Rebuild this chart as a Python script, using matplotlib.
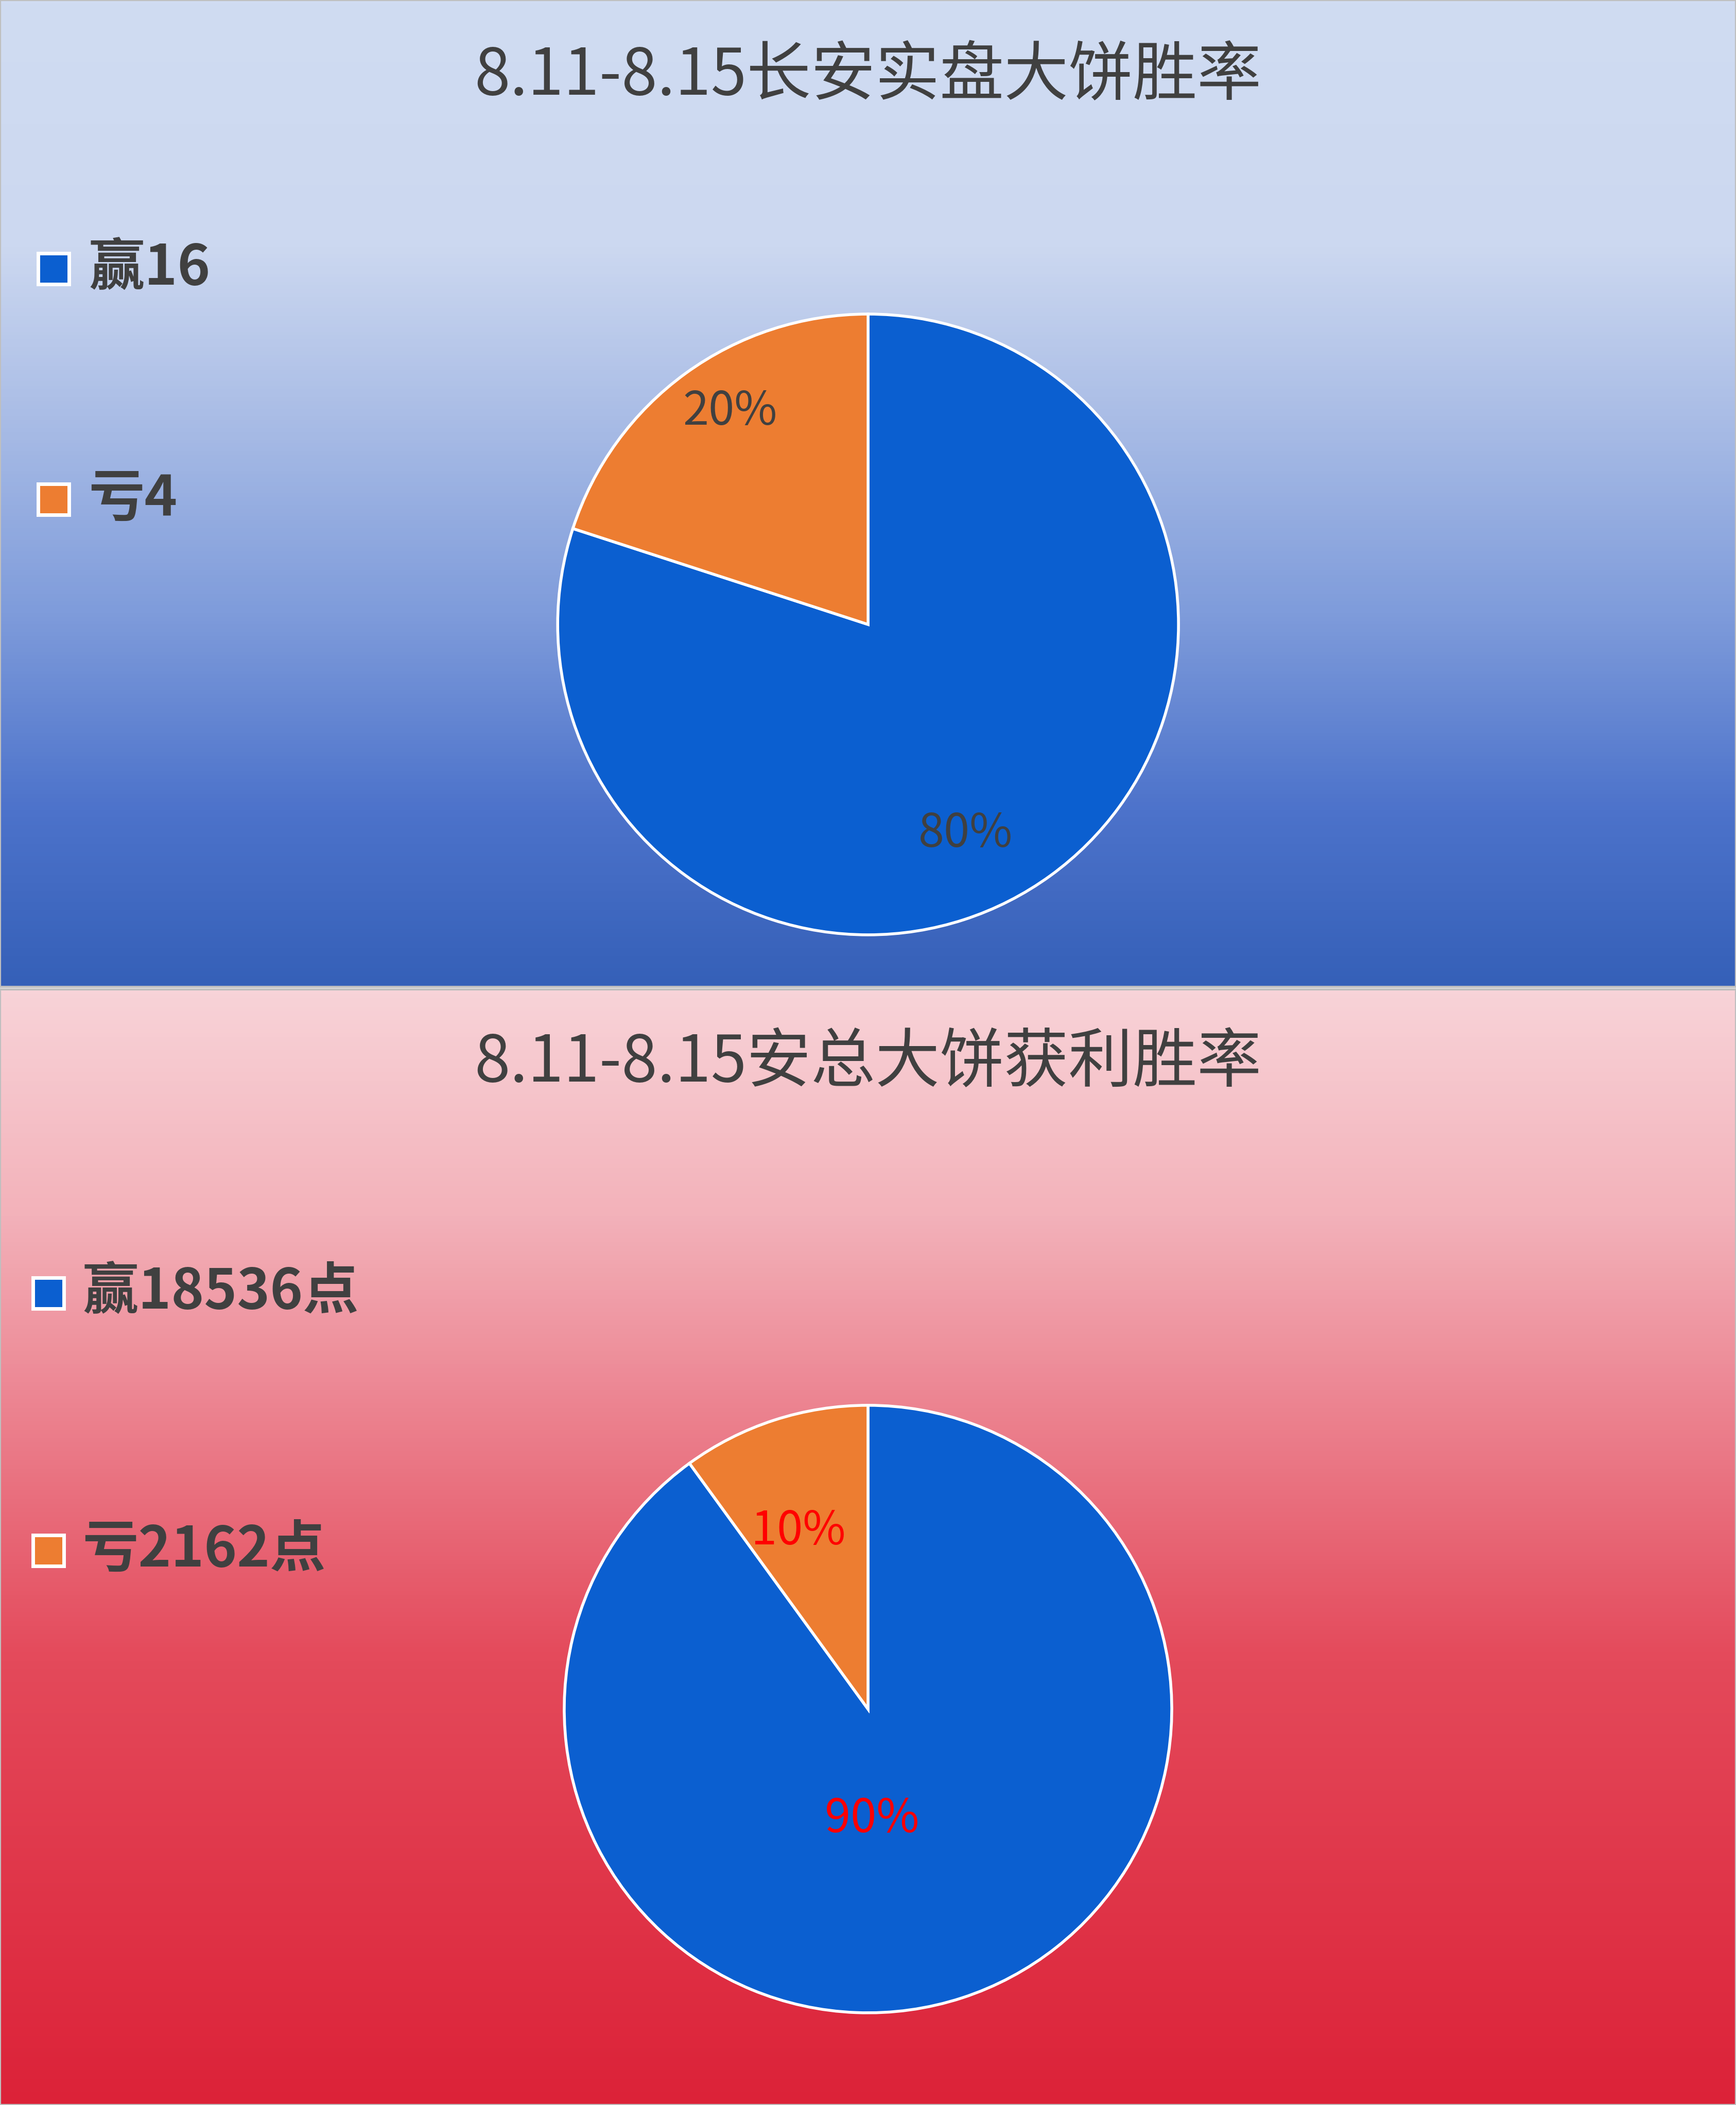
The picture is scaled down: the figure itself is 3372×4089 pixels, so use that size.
import matplotlib.pyplot as plt
import matplotlib.patches as mpatches
from matplotlib.colors import LinearSegmentedColormap
import numpy as np

plt.rcParams['font.family'] = ['Noto Sans CJK SC', 'DejaVu Sans']

# data
top_title = '8.11-8.15长安实盘大饼胜率'
top_labels = ['赢16', '亏4']
top_values = [80, 20]
bot_title = '8.11-8.15安总大饼获利胜率'
bot_labels = ['赢18536点', '亏2162点']
bot_values = [90, 10]
colors = ['#0B5FD0', '#ED7D31']

W, H = 3372, 4089
fig = plt.figure(figsize=(W / 100, H / 100), dpi=100)

def background(rect, stops):
    ax = fig.add_axes(rect)
    cmap = LinearSegmentedColormap.from_list('bg', stops)
    grad = np.linspace(0, 1, 512).reshape(-1, 1)
    ax.imshow(grad, aspect='auto', cmap=cmap, extent=[0, 1, 0, 1], origin='upper')
    ax.set_xlim(0, 1)
    ax.set_ylim(0, 1)
    ax.set_xticks([])
    ax.set_yticks([])
    for s in ax.spines.values():
        s.set_color('#BFBFBF')
        s.set_linewidth(3)
    return ax

background([0, 1 - 1917 / H, 1, 1917 / H],
           [(0.0, '#D0DCF2'), (0.25, '#CCD8F0'), (0.42, '#AABDE6'),
            (0.62, '#7F9CDB'), (0.82, '#4D73CB'), (1.0, '#3560B8')])
background([0, 0, 1, 1 - 1922 / H],
           [(0.0, '#F8D3D8'), (0.2, '#F3B2BA'), (0.4, '#EB7C8A'),
            (0.6, '#E44A5B'), (1.0, '#DC2238')])

def draw_pie(rect, values, dists, shifts, txt_color):
    ax = fig.add_axes(rect)
    wedges, texts, autotexts = ax.pie(values, colors=colors, startangle=90,
                                      counterclock=False, radius=1,
                                      autopct='%d%%',
                                      wedgeprops=dict(edgecolor='white', linewidth=4),
                                      textprops=dict(fontsize=65, color=txt_color))
    for w, t, d, s in zip(wedges, autotexts, dists, shifts):
        w.set_clip_on(False)
        ang = np.deg2rad((w.theta1 + w.theta2) / 2 + s)
        t.set_position((d * np.cos(ang), d * np.sin(ang)))
    ax.set_xlim(-1, 1)
    ax.set_ylim(-1, 1)
    ax.set_aspect('equal')
    ax.axis('off')
    return ax

draw_pie([0.3212, 0.5559, 0.3577, 0.2949], top_values, [0.745, 0.817], [-11, -3], '#404040')
draw_pie([0.325, 0.0438, 0.350, 0.2886], bot_values, [0.363, 0.628], [-16, 3.5], '#FF0000')

fig.text(0.5, 0.9636, top_title, ha='center', va='center', fontsize=90, color='#404040')
fig.text(0.5, 0.4948, bot_title, ha='center', va='center', fontsize=90, color='#404040')

def legend(labels, xs, xt, ys):
    for lab, c, y in zip(labels, colors, ys):
        sq = 60
        fig.patches.append(mpatches.Rectangle(((xs - sq / 2) / W, y - sq / 2 / H), sq / W, sq / H,
                                              transform=fig.transFigure, facecolor=c,
                                              edgecolor='white', linewidth=5))
        fig.text(xt / W, y, lab, ha='left', va='center', fontsize=78,
                 fontweight='bold', color='#404040')

legend(top_labels, 104, 172, [0.8723, 0.7627])
legend(bot_labels, 94, 160, [0.3857, 0.2633])

fig.savefig('out.png', dpi=100)
